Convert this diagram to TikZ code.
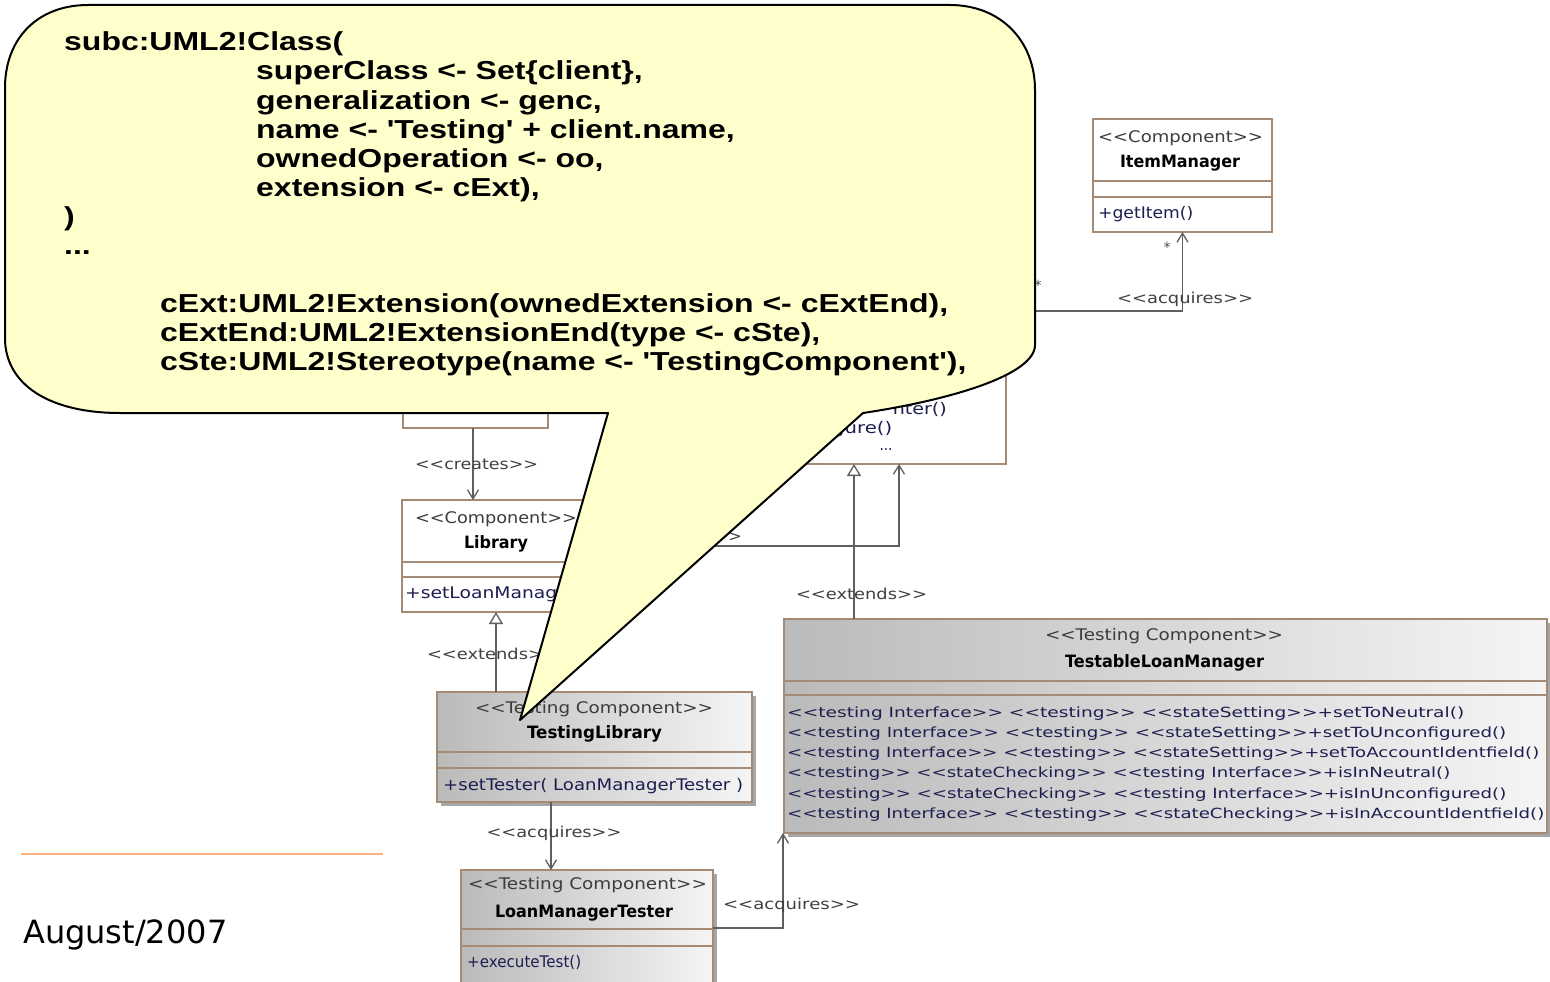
\documentclass[tikz,border=0pt]{standalone}
\usepackage{fontspec}
\usepackage{graphicx}
\usetikzlibrary{arrows.meta,calc}

\newfontfamily\umlfont[Ligatures=TeXOff]{DejaVu Sans}
\newfontfamily\bubblefont[Ligatures=TeXOff,FakeStretch=1.23]{Liberation Sans}
\newfontfamily\datefont[Ligatures=TeXOff]{DejaVu Sans}
% fit a piece of text to a given width, keeping its height
\newcommand\fw[2]{\resizebox{#1pt}{\height}{#2}}

\definecolor{boxline}{RGB}{166,139,116}
\definecolor{connline}{RGB}{95,95,95}
\definecolor{opblue}{RGB}{30,30,80}
\definecolor{hdrgray}{RGB}{60,60,60}
\definecolor{bubblefill}{RGB}{255,255,204}
\definecolor{rulecol}{RGB}{255,178,125}

\tikzset{
  umlbox/.style={draw=boxline, line width=1.3pt, fill=white, inner sep=0, outer sep=0, anchor=north west},
  testbox/.style={draw=boxline, line width=1.3pt, left color=black!27, right color=black!4, inner sep=0, outer sep=0, anchor=north west},
  divider/.style={draw=boxline, line width=1.3pt},
  shadowbox/.style={fill=black!35},
  hdr/.style={inner sep=0, anchor=base, text=hdrgray, font=\umlfont\fontsize{16}{18}\selectfont},
  cname/.style={inner sep=0, anchor=base, text=black, font=\umlfont\bfseries\fontsize{17}{19}\selectfont},
  op/.style={inner sep=0, anchor=base west, text=opblue, font=\umlfont\fontsize{16}{18}\selectfont},
  tlmop/.style={op, font=\umlfont\fontsize{14}{16}\selectfont},
  lbl/.style={inner sep=0, anchor=base, text=black!75, font=\umlfont\fontsize{15}{17}\selectfont},
  mult/.style={inner sep=0, text=black!70, font=\umlfont\fontsize{14}{16}\selectfont},
  conn/.style={draw=connline, line width=1.3pt},
  dep/.style={conn, -{Straight Barb[length=9pt,width=11pt]}},
  gen/.style={conn, -{Triangle[length=12pt,width=14pt,fill=white]}},
  bubble/.style={draw=black, line width=2pt, fill=bubblefill, line join=round},
  code/.style={inner sep=0, anchor=base west, font=\bubblefont\bfseries\fontsize{26}{29}\selectfont},
}

\begin{document}
\begin{tikzpicture}[x=1pt,y=-1pt]
\useasboundingbox (0,0) rectangle (1550,982);
\clip (0,0) rectangle (1550,982);
\fill[white] (0,0) rectangle (1550,982);

% guide coordinates for connector routing
\coordinate (x473) at (473,0);
\coordinate (x496) at (496,0);
\coordinate (x551) at (551,0);
\coordinate (x783) at (783,0);
\coordinate (x854) at (854,0);
\coordinate (x899) at (899,0);
\coordinate (y311) at (0,311);
\coordinate (y546) at (0,546);
\coordinate (y928) at (0,928);

% ---------- plain components ----------
\node[umlbox, minimum width=145, minimum height=48] (creator) at (403,380) {};
\node[umlbox, minimum width=240, minimum height=214] (loanmgr) at (766,250) {};
\node[op, anchor=base east] (lmop1) at (947,414) {\fw{54}{nter()}};
\node[op] (lmop2) at (832,433) {\fw{60}{gure()}};
\node[op, anchor=base] (lmop3) at (886,450) {\fw{13}{...}};

\node[umlbox, minimum width=179, minimum height=113] (item) at (1093,119) {};
\draw[divider] (1093,181) -- (1272,181);
\draw[divider] (1093,197) -- (1272,197);
\node[hdr] (itemhdr) at (1180.5,142) {\fw{165}{<<Component>>}};
\node[cname] (itemname) at (1180,167) {\fw{120}{ItemManager}};
\node[op] (itemop) at (1098,218) {\fw{95}{+getItem()}};

\node[umlbox, minimum width=186, minimum height=112] (lib) at (402,500) {};
\draw[divider] (402,562) -- (588,562);
\draw[divider] (402,577) -- (588,577);
\node[hdr] (libhdr) at (496,523) {\fw{162}{<<Component>>}};
\node[cname] (libname) at (496,548) {\fw{64}{Library}};
\node[op] (libop) at (405,598) {\fw{152}{+setLoanManag}};

% ---------- testing components ----------
\fill[shadowbox] (441,696) rectangle (756,806);
\node[testbox, minimum width=315, minimum height=110] (tlib) at (437,692) {};
\draw[divider] (437,752) -- (752,752);
\draw[divider] (437,768) -- (752,768);
\node[hdr] (tlibhdr) at (594,713) {\fw{238}{<<Testing Component>>}};
\node[cname] (tlibname) at (594.5,738) {\fw{135}{TestingLibrary}};
\node[op] (tlibop) at (443,790) {\fw{300}{+setTester( LoanManagerTester )}};

\fill[shadowbox] (465,874) rectangle (717,1000);
\node[testbox, minimum width=252, minimum height=125] (lmt) at (461,870) {};
\draw[divider] (461,929) -- (713,929);
\draw[divider] (461,946) -- (713,946);
\node[hdr] (lmthdr) at (587.5,889) {\fw{239}{<<Testing Component>>}};
\node[cname] (lmtname) at (584,917) {\fw{178}{LoanManagerTester}};
\node[op] (lmtop) at (467,967) {\fw{114}{+executeTest()}};

\fill[shadowbox] (788,623) rectangle (1560,837);
\node[testbox, minimum width=763, minimum height=214] (tlm) at (784,619) {};
\draw[divider] (784,681) -- (1547,681);
\draw[divider] (784,695) -- (1547,695);
\node[hdr] (tlmhdr) at (1164,640) {\fw{238}{<<Testing Component>>}};
\node[cname] (tlmname) at (1164.5,667) {\fw{199}{TestableLoanManager}};
\node[tlmop] (tlmop1) at (787,717) {\fw{677}{<<testing Interface>> <<testing>> <<stateSetting>>+setToNeutral()}};
\node[tlmop] (tlmop2) at (787,737) {\fw{719}{<<testing Interface>> <<testing>> <<stateSetting>>+setToUnconfigured()}};
\node[tlmop] (tlmop3) at (787,757.5) {\fw{752}{<<testing Interface>> <<testing>> <<stateSetting>>+setToAccountIdentfield()}};
\node[tlmop] (tlmop4) at (787,777.5) {\fw{663}{<<testing>> <<stateChecking>> <<testing Interface>>+isInNeutral()}};
\node[tlmop] (tlmop5) at (787,798) {\fw{719}{<<testing>> <<stateChecking>> <<testing Interface>>+isInUnconfigured()}};
\node[tlmop] (tlmop6) at (787,818) {\fw{757}{<<testing Interface>> <<testing>> <<stateChecking>>+isInAccountIdentfield()}};

% ---------- connectors ----------
\draw[dep] (creator.south -| x473) -- (lib.north -| x473);
\draw[dep] (lib.east |- y546) -| (loanmgr.south -| x899);
\draw[gen] (tlm.north -| x854) -- (loanmgr.south -| x854);
\draw[dep] (loanmgr.east |- y311) -| (item.south);
\draw[gen] (tlib.north -| x496) -- (lib.south -| x496);
\draw[dep] (tlib.south -| x551) -- (lmt.north -| x551);
\draw[dep] (lmt.east |- y928) -| (tlm.south -| x783);

\node[lbl] (acqitem) at (1185,303) {\fw{136}{<<acquires>>}};
\node[mult] (multitem) at (1167,247) {*};
\node[mult] (multmgr) at (1038,285) {*};
\node[lbl] (creates) at (476.5,469) {\fw{123}{<<creates>>}};
\node[lbl] (extmgr) at (861.5,599) {\fw{131}{<<extends>>}};
\node[lbl] (extlib) at (492.5,659) {\fw{131}{<<extends>>}};
\node[lbl] (acqtester) at (554,837) {\fw{135}{<<acquires>>}};
\node[lbl] (acqtlm) at (791.5,909) {\fw{137}{<<acquires>>}};
\node[lbl, anchor=base east] (acqlib) at (742,541) {\fw{27}{>>}};

% ---------- callout ----------
\draw[bubble] (5,88) .. controls (5,38) and (38,5) .. (88,5) -- (950,5)
  .. controls (1000,5) and (1035,40) .. (1035,90) -- (1035,345)
  .. controls (1035,375) and (950,400) .. (863,413) -- (520,720) -- (608,413)
  -- (120,413) .. controls (50,413) and (5,385) .. (5,338) -- cycle;

\node[code] (l1) at (64,51) {subc:UML2!Class(};
\node[code] (l2) at (256,80) {superClass <- Set\{client\},};
\node[code] (l3) at (256,109) {generalization <- genc,};
\node[code] (l4) at (256,138) {name <- 'Testing' + client.name,};
\node[code] (l5) at (256,167) {ownedOperation <- oo,};
\node[code] (l6) at (256,196) {extension <- cExt),};
\node[code] (l7) at (64,225) {)};
\node[code] (l8) at (64,254) {...};
\node[code] (l9) at (160,312) {cExt:UML2!Extension(ownedExtension <- cExtEnd),};
\node[code] (l10) at (160,341) {cExtEnd:UML2!ExtensionEnd(type <- cSte),};
\node[code] (l11) at (160,370) {cSte:UML2!Stereotype(name <- 'TestingComponent'),};

% ---------- footer ----------
\coordinate (rulel) at (21,854);
\coordinate (ruler) at (383,854);
\draw[rulecol, line width=2pt] (rulel) -- (ruler);
\node[inner sep=0, anchor=base west, font=\datefont\fontsize{32}{38}\selectfont] (date) at (23,943) {August/2007};
\end{tikzpicture}
\end{document}
